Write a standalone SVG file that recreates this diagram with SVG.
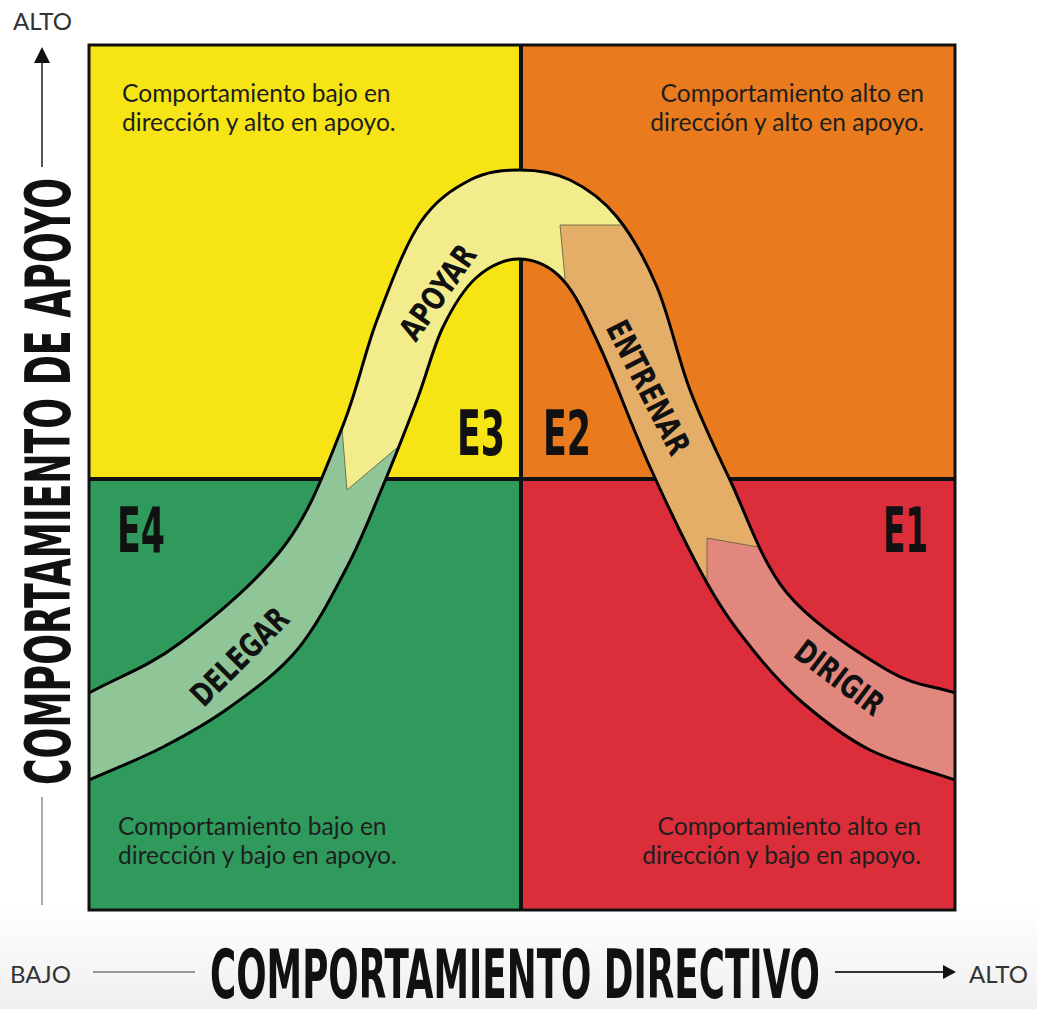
<svg xmlns="http://www.w3.org/2000/svg" width="1037" height="1009" viewBox="0 0 1037 1009">
<defs>
<style>
.qt{font-family:Lato,"Open Sans","Liberation Sans",sans-serif;font-size:24.6px;fill:#1e1e1e;}
.ax{font-family:Lato,"Liberation Sans",sans-serif;font-size:24px;fill:#333;}
.big{font-family:"DejaVu Sans Condensed","DejaVu Sans","Liberation Sans",sans-serif;font-weight:bold;fill:#111;}
.lbl{font-family:"DejaVu Sans Condensed","DejaVu Sans","Liberation Sans",sans-serif;font-weight:bold;font-size:32px;fill:#111;}
.edge{fill:none;stroke:#000;stroke-width:3;}
.seam{fill:none;stroke:#5a5a3a;stroke-width:1;stroke-opacity:0.8;}
</style>
<linearGradient id="bg" x1="0" y1="0" x2="0" y2="1">
<stop offset="0" stop-color="#ffffff"/>
<stop offset="1" stop-color="#efefef"/>
</linearGradient>
<path id="bandShape" d="M89,693 C119.3,676.3 147.3,667.7 180,643 C212.7,618.3 258,580.8 285,545 C312,509.2 326.7,465.5 342,428 C357.3,390.5 364,354.2 377,320 C390,285.8 404.5,246.3 420,223 C435.5,199.7 453.3,188.8 470,180 C486.7,171.2 503.3,170 520,170 C536.7,170 553.8,172.2 570,180 C586.2,187.8 602.5,199.2 617,217 C631.5,234.8 644.8,258.2 657,287 C669.2,315.8 677.8,357.8 690,390 C702.2,422.2 713.8,446.2 730,480 C746.2,513.8 760.8,561.3 787,593 C813.2,624.7 859,653.3 887,670 C915,686.7 932.3,685.3 955,693 L955,780 C926.7,770 895.3,762.8 870,750 C844.7,737.2 822.5,719.7 803,703 C783.5,686.3 769,670 753,650 C737,630 724.2,613.5 707,583 C689.8,552.5 667.8,506.3 650,467 C632.2,427.7 614.5,378.2 600,347 C585.5,315.8 576.3,294.7 563,280 C549.7,265.3 534.3,259.5 520,259 C505.7,258.5 489.8,265.7 477,277 C464.2,288.3 453,306.5 443,327 C433,347.5 427.5,372.3 417,400 C406.5,427.7 391.7,465.2 380,493 C368.3,520.8 360.8,540.8 347,567 C333.2,593.2 316.5,626.7 297,650 C277.5,673.3 252.3,690.8 230,707 C207.7,723.2 186.5,734.8 163,747 C139.5,759.2 113.7,769 89,780 Z"/>
<clipPath id="bandClip"><use href="#bandShape"/></clipPath>
</defs>

<rect x="0" y="0" width="1037" height="1009" fill="#ffffff"/>
<rect x="0" y="905" width="1037" height="104" fill="url(#bg)"/>

<g id="quadrants">
<g id="q-e3"><rect x="89" y="45" width="432" height="434" fill="#F7E414"/></g>
<g id="q-e2"><rect x="521" y="45" width="434" height="434" fill="#E97B1E"/></g>
<g id="q-e4"><rect x="89" y="479" width="432" height="431" fill="#2F9A5C"/></g>
<g id="q-e1"><rect x="521" y="479" width="434" height="431" fill="#DC2E3A"/></g>
<line x1="521" y1="45" x2="521" y2="910" stroke="#111" stroke-width="4"/>
<line x1="89" y1="479" x2="955" y2="479" stroke="#111" stroke-width="4"/>
</g>

<g id="quadrant-texts">
<g id="txt-e3"><text class="qt" x="122" y="102">Comportamiento bajo en</text><text class="qt" x="122" y="131">dirección y alto en apoyo.</text></g>
<g id="txt-e2"><text class="qt" x="924" y="102" text-anchor="end">Comportamiento alto en</text><text class="qt" x="924" y="131" text-anchor="end">dirección y alto en apoyo.</text></g>
<g id="txt-e4"><text class="qt" x="118" y="835">Comportamiento bajo en</text><text class="qt" x="118" y="864">dirección y bajo en apoyo.</text></g>
<g id="txt-e1"><text class="qt" x="921" y="835" text-anchor="end">Comportamiento alto en</text><text class="qt" x="921" y="864" text-anchor="end">dirección y bajo en apoyo.</text></g>
</g>

<g id="stage-labels">
<text class="big" x="457" y="455" font-size="62" textLength="48" lengthAdjust="spacingAndGlyphs">E3</text>
<text class="big" x="543" y="455" font-size="62" textLength="48" lengthAdjust="spacingAndGlyphs">E2</text>
<text class="big" x="117" y="552" font-size="62" textLength="48" lengthAdjust="spacingAndGlyphs">E4</text>
<text class="big" x="883" y="552" font-size="62" textLength="45" lengthAdjust="spacingAndGlyphs">E1</text>
</g>

<g id="connectors">
<use href="#bandShape" fill="#F2EC8C"/>
<g clip-path="url(#bandClip)">
<polygon id="seg-delegar" points="341,415 347,490 420,428 420,1009 0,1009 0,415" fill="#8FC597"/>
<polygon id="seg-entrenar" points="560,225 1037,225 1037,1009 566,1009 565,278" fill="#E4AE68"/>
<polygon id="seg-dirigir" points="707,538 800,555 1037,555 1037,1009 707,1009" fill="#E2877E"/>
</g>
<polyline class="seam" points="342,428 347,490 398,447"/>
<polyline class="seam" points="621,225 560,225 565,279"/>
<polyline class="seam" points="758,547 707,538 707,583"/>
<path class="edge" d="M89,693 C119.3,676.3 147.3,667.7 180,643 C212.7,618.3 258,580.8 285,545 C312,509.2 326.7,465.5 342,428 C357.3,390.5 364,354.2 377,320 C390,285.8 404.5,246.3 420,223 C435.5,199.7 453.3,188.8 470,180 C486.7,171.2 503.3,170 520,170 C536.7,170 553.8,172.2 570,180 C586.2,187.8 602.5,199.2 617,217 C631.5,234.8 644.8,258.2 657,287 C669.2,315.8 677.8,357.8 690,390 C702.2,422.2 713.8,446.2 730,480 C746.2,513.8 760.8,561.3 787,593 C813.2,624.7 859,653.3 887,670 C915,686.7 932.3,685.3 955,693"/>
<path class="edge" d="M89,780 C113.7,769 139.5,759.2 163,747 C186.5,734.8 207.7,723.2 230,707 C252.3,690.8 277.5,673.3 297,650 C316.5,626.7 333.2,593.2 347,567 C360.8,540.8 368.3,520.8 380,493 C391.7,465.2 406.5,427.7 417,400 C427.5,372.3 433,347.5 443,327 C453,306.5 464.2,288.3 477,277 C489.8,265.7 505.7,258.5 520,259 C534.3,259.5 549.7,265.3 563,280 C576.3,294.7 585.5,315.8 600,347 C614.5,378.2 632.2,427.7 650,467 C667.8,506.3 689.8,552.5 707,583 C724.2,613.5 737,630 753,650 C769,670 783.5,686.3 803,703 C822.5,719.7 844.7,737.2 870,750 C895.3,762.8 926.7,770 955,780"/>
<text class="lbl" transform="translate(437,292) rotate(-55)" x="0" y="12" text-anchor="middle" textLength="108" lengthAdjust="spacingAndGlyphs">APOYAR</text>
<text class="lbl" transform="translate(649,387) rotate(63)" x="0" y="12" text-anchor="middle" textLength="146" lengthAdjust="spacingAndGlyphs">ENTRENAR</text>
<text class="lbl" transform="translate(239,656) rotate(-45)" x="0" y="12" text-anchor="middle" textLength="124" lengthAdjust="spacingAndGlyphs">DELEGAR</text>
<text class="lbl" transform="translate(840,677) rotate(37)" x="0" y="12" text-anchor="middle" textLength="102" lengthAdjust="spacingAndGlyphs">DIRIGIR</text>
</g>

<rect x="89" y="45" width="866" height="865" fill="none" stroke="#111" stroke-width="3"/>

<g id="axis-y">
<text class="ax" x="13" y="30">ALTO</text>
<line x1="42" y1="62" x2="42" y2="167" stroke="#555" stroke-width="2"/>
<polygon points="42,47 34,63 50,63" fill="#111"/>
<text class="big" transform="translate(70,481.5) rotate(-90)" x="0" y="0" font-size="62" text-anchor="middle" textLength="607" lengthAdjust="spacingAndGlyphs">COMPORTAMIENTO DE APOYO</text>
<line x1="42" y1="797" x2="42" y2="905" stroke="#aaa" stroke-width="2"/>
</g>

<g id="axis-x">
<text class="ax" x="10" y="983">BAJO</text>
<line x1="93" y1="972" x2="195" y2="972" stroke="#999" stroke-width="2"/>
<text class="big" x="210" y="998" font-size="68" textLength="610" lengthAdjust="spacingAndGlyphs">COMPORTAMIENTO DIRECTIVO</text>
<line x1="835" y1="972" x2="945" y2="972" stroke="#333" stroke-width="2"/>
<polygon points="956,972 943,965 943,979" fill="#111"/>
<text class="ax" x="969" y="983">ALTO</text>
</g>
</svg>
